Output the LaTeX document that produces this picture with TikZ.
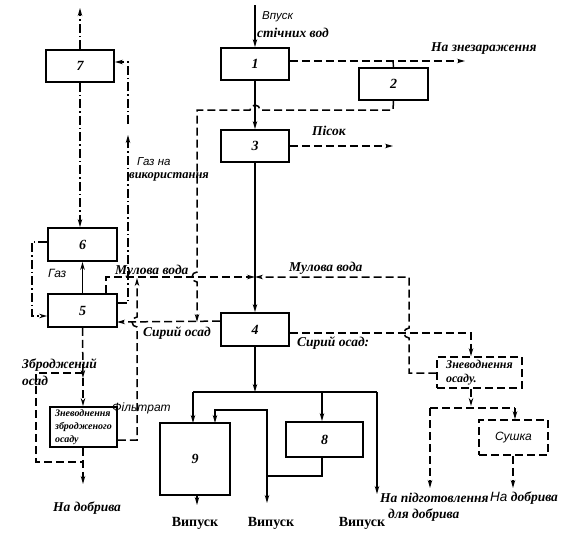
\documentclass[tikz,border=0pt]{standalone}
\usepackage{fontspec}
\setmainfont{Liberation Serif}
\setsansfont{Liberation Sans}
\usetikzlibrary{arrows.meta,calc}
\begin{document}
\begin{tikzpicture}[x=1pt,y=-1pt,
 box/.style={draw,line width=1.8pt,inner sep=0pt,font=\bfseries\itshape\fontsize{14}{14}\selectfont},
 dbox/.style={draw,line width=1.5pt,dash pattern=on 8pt off 4pt,inner sep=0pt},
 flow/.style={line width=1.8pt},
 dsh/.style={line width=1.5pt,dash pattern=on 8pt off 4pt},
 dd/.style={line width=1.3pt,dash pattern=on 9pt off 3pt on 1.5pt off 3pt},
 arr/.style={-{Stealth[length=8pt,width=4.5pt]}},
 lbl/.style={font=\bfseries\itshape\fontsize{13.5}{15}\selectfont,inner sep=0pt,anchor=west},
 slbl/.style={font=\sffamily\itshape\fontsize{12}{14}\selectfont,inner sep=0pt,anchor=west},
 vlbl/.style={font=\bfseries\fontsize{14}{16}\selectfont,inner sep=0pt},
]
\useasboundingbox[fill=white] (0,0) rectangle (566,539);

% boxes
\node[box,minimum width=68pt,minimum height=32pt] (b7) at (80,66) {7};
\node[box,minimum width=68pt,minimum height=32pt] (b1) at (255,64) {1};
\node[box,minimum width=69pt,minimum height=32pt] (b2) at (393.5,84) {2};
\node[box,minimum width=68pt,minimum height=32pt] (b3) at (255,146) {3};
\node[box,minimum width=69pt,minimum height=33pt] (b6) at (82.5,244.5) {6};
\node[box,minimum width=69pt,minimum height=33pt] (b5) at (82.5,310.5) {5};
\node[box,minimum width=68pt,minimum height=33pt] (b4) at (255,329.5) {4};
\node[box,minimum width=70pt,minimum height=72pt] (b9) at (195,459) {9};
\node[box,minimum width=77pt,minimum height=35pt] (b8) at (324.5,439.5) {8};
\node[box,minimum width=67pt,minimum height=40pt,align=left,font=\bfseries\itshape\fontsize{10}{13}\selectfont] (dl) at (83.5,427) {Зневоднення\\збродженого\\осаду};
\node[dbox,minimum width=85pt,minimum height=31pt,align=left,font=\bfseries\itshape\fontsize{12}{14}\selectfont] (dr) at (479.5,372.5) {Зневоднення\\осаду.};
\node[dbox,minimum width=69pt,minimum height=35pt,font=\sffamily\itshape\fontsize{12}{14}\selectfont] (su) at (513.5,437.5) {Сушка};

% coordinates
\coordinate (inl) at (255,5);
\coordinate (zn) at (465,61);
\coordinate (ps) at (393,146);
\coordinate (g7) at (80,8);
\coordinate (db) at (83,484);
\coordinate (j4) at (255,392);
\coordinate (v9) at (197,505);
\coordinate (v8) at (267,503);
\coordinate (vr) at (377,494);
\coordinate (pd) at (430,488);
\coordinate (pdr) at (513,488);

% main solid flow
\draw[flow,arr] (inl) -- (b1.north);
\draw[flow,arr] (b1.south) -- (b3.north);
\draw[flow,arr] (b3.south) -- (b4.north);
\draw[flow,arr] (b4.south) -- (j4);
\draw[flow] (193,392) -- (377,392);
\draw[flow,arr] (193,392) -- (193,423);
\draw[flow,arr] (322,392) -- (b8.north -| 322,0);
\draw[flow,arr] (377,392) -- (vr);
\draw[flow,arr] (267,476) -- (267,410) -- (215,410) -- (215,423);
\draw[flow,arr] (b8.south -| 322,0) -- (322,476) -- (267,476) -- (v8);
\draw[flow,arr] (b9.south -| 197,0) -- (v9);
\draw[flow,arr] (b5.north) -- (b6.south);

% disinfection
\draw[dsh,arr] ($(b1.east)+(0,-3)$) -- (zn);
\draw[line width=1.4pt] (393,61) -- (b2.north);
% from 2 back with hops
\draw[dsh,arr] (b2.south) -- (393,110) -- (260,110) arc[start angle=0,end angle=-180,radius=5] -- (197,110) -- (197,272) arc[start angle=-90,end angle=-270,radius=5] -- (197,322);
\draw[dsh,arr] (b3.east) -- (ps);

% raw sludge
\draw[dsh,arr] ($(b4.north west)+(0,9)$) -- (117,322);
\draw[dsh,arr] ($(b4.east)+(0,3.5)$) -- (471,333) -- (dr.north -| 471,0);
% sludge water
\draw[dsh,arr] (b5.north -| 106,0) -- (106,277) -- (255,277);
\draw[dsh,arr] (dr.west |- 0,373) -- (409,373) -- (409,338) arc[start angle=90,end angle=270,radius=5] -- (409,277) -- (255,277);
% filtrate
\draw[dsh,arr] (dl.east |- 0,440) -- (137,440) -- (137,327) arc[start angle=90,end angle=270,radius=5] -- (137,278);

% digested sludge
\draw[dsh,arr] (b5.south) -- (83,378);
\draw[dsh,arr] (83,378) -- (dl.north -| 83,0);
\draw[dsh] (83,373) -- (36,373) -- (36,462) -- (83,462);
\draw[dsh,arr] (dl.south -| 83,0) -- (db);

% right dewatering outputs
\draw[dsh,arr] (dr.south -| 471,0) -- (471,406);
\draw[dsh] (430,408) -- (515,408);
\draw[dsh,arr] (430,408) -- (pd);
\draw[dsh,arr] (515,408) -- (su.north -| 515,0);
\draw[dsh,arr] (su.south -| 513,0) -- (pdr);

% gas
\draw[dd,arr] (b7.north) -- (g7);
\draw[dd,arr] (b7.south) -- (b6.north -| 80,0);
\draw[dd,arr] (b6.west |- 0,242) -- (32,242) -- (32,316) -- (b5.west |- 0,316);
\draw[dd,arr] (b5.east |- 0,303) -- (128,303) -- (128,135);
\draw[dd,arr] (128,124) -- (128,62) -- (b7.east |- 0,62);

% labels
\node[slbl,font=\sffamily\itshape\fontsize{11.5}{12}\selectfont] (t1) at (262,17) {Впуск};
\node[lbl] (t2) at (257,33) {стічних вод};
\node[lbl] (t3) at (431,49) {На знезараження};
\node[lbl] (t4) at (312,131) {Пісок};
\node[slbl,font=\sffamily\itshape\fontsize{11.5}{12}\selectfont] (t5) at (137,162) {Газ на};
\node[lbl,font=\bfseries\itshape\fontsize{12.5}{13}\selectfont] (t6) at (129,177) {використання};
\node[slbl] (t7) at (48,273) {Газ};
\node[lbl] (t8) at (115,271) {Мулова вода};
\node[lbl] (t9) at (289,268) {Мулова вода};
\node[lbl] (t10) at (143,333) {Сирий осад};
\node[lbl] (t11) at (297,343) {Сирий осад:};
\node[lbl] (t12) at (22,365) {Зброджений};
\node[lbl] (t13) at (22,381) {осад};
\node[slbl] (t14) at (112,408) {Фільтрат};
\node[lbl] (t15) at (53,508) {На добрива};
\node[vlbl] (t16) at (195,523) {Випуск};
\node[vlbl] (t17) at (271,523) {Випуск};
\node[vlbl] (t18) at (362,523) {Випуск};
\node[lbl] (t19) at (380,498) {На підготовлення};
\node[lbl] (t20) at (388,515) {для добрива};
\node[lbl] (t21) at (490,498) {{\sffamily\mdseries На} добрива};
\end{tikzpicture}
\end{document}
